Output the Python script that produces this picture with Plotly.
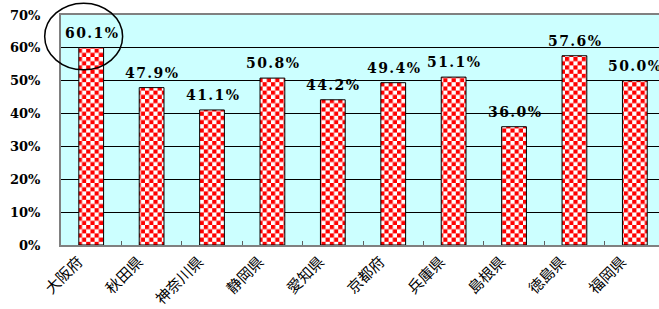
import plotly.graph_objects as go

prefectures = ["大阪府", "秋田県", "神奈川県", "静岡県", "愛知県", "京都府", "兵庫県", "島根県", "徳島県", "福岡県"]
rates = [60.1, 47.9, 41.1, 50.8, 44.2, 49.4, 51.1, 36.0, 57.6, 50.0]
y_ticks = [0, 10, 20, 30, 40, 50, 60, 70]
highlight = "大阪府"

X_RANGE = [-0.5, 9.4]
Y_RANGE = [0, 70]

fig = go.Figure()
fig.add_trace(go.Bar(
    x=prefectures, y=rates, width=0.41,
    marker=dict(color="#ff0000",
                line=dict(color="#000000", width=1),
                pattern=dict(shape="+", fgcolor="#ff0000", bgcolor="#ffffff",
                             size=8.4, solidity=0.5, fillmode="replace")),
    hoverinfo="skip",
))

HAIR = "\u200a"
label_font = dict(family="DejaVu Serif", size=14, color="#000000", weight="bold")
for p, v in zip(prefectures, rates):
    fig.add_annotation(x=p, y=v, text=HAIR.join(f"{v:.1f}%"), showarrow=False,
                       yanchor="bottom", yshift=5, font=label_font)

# highlight ellipse around the top value (derived from data)
hi = prefectures.index(highlight)
hv = rates[hi]
def xd(v):
    return (v - X_RANGE[0]) / (X_RANGE[1] - X_RANGE[0])
def yd(v):
    return (v - Y_RANGE[0]) / (Y_RANGE[1] - Y_RANGE[0])
fig.add_shape(type="circle", xref="x domain", yref="y domain",
              x0=xd(hi - 0.77), x1=xd(hi + 0.52),
              y0=yd(hv - 6.8), y1=yd(hv + 13.5),
              line=dict(color="#000000", width=1.5), layer="above")

fig.update_layout(
    width=659, height=309,
    margin=dict(l=61, r=0, t=15, b=64),
    paper_bgcolor="#ffffff", plot_bgcolor="#ccffff",
    showlegend=False,
    xaxis=dict(type="category", range=X_RANGE, showgrid=False, automargin=False,
               showline=True, linecolor="#808080", linewidth=2, mirror=True,
               ticks="inside", tickson="boundaries", ticklen=4, tickcolor="#606060",
               tickangle=-45, ticklabelshift=-13,
               tickfont=dict(family="Noto Sans CJK JP", size=15, color="#000000")),
    yaxis=dict(range=Y_RANGE, tickvals=y_ticks, ticktext=[f"{t}%" for t in y_ticks],
               showgrid=True, gridcolor="#000000", gridwidth=1, automargin=False,
               showline=True, linecolor="#808080", linewidth=2,
               zeroline=False, ticks="", ticklabelstandoff=16,
               tickfont=dict(family="DejaVu Serif", size=13, color="#000000", weight="bold")),
)

post = """
document.body.style.margin = '0';
document.body.style.overflow = 'hidden';
var gd = document.getElementById('{plot_id}');
function checker(){
  var ns = 'http://www.w3.org/2000/svg';
  gd.querySelectorAll('pattern').forEach(function(p){
    var s = parseFloat(p.getAttribute('width'));
    var h = s / 2;
    while (p.firstChild) p.removeChild(p.firstChild);
    function r(x, y, w, hh, c){
      var e = document.createElementNS(ns, 'rect');
      e.setAttribute('x', x); e.setAttribute('y', y);
      e.setAttribute('width', w); e.setAttribute('height', hh);
      e.setAttribute('fill', c); p.appendChild(e);
    }
    r(0, 0, s, s, '#ffffff');
    r(0, 0, h, h, '#ff0000');
    r(h, h, h, h, '#ff0000');
  });
}
checker();
gd.on('plotly_afterplot', checker);
"""
fig.write_html("out.html", post_script=post, config={"displayModeBar": False})
